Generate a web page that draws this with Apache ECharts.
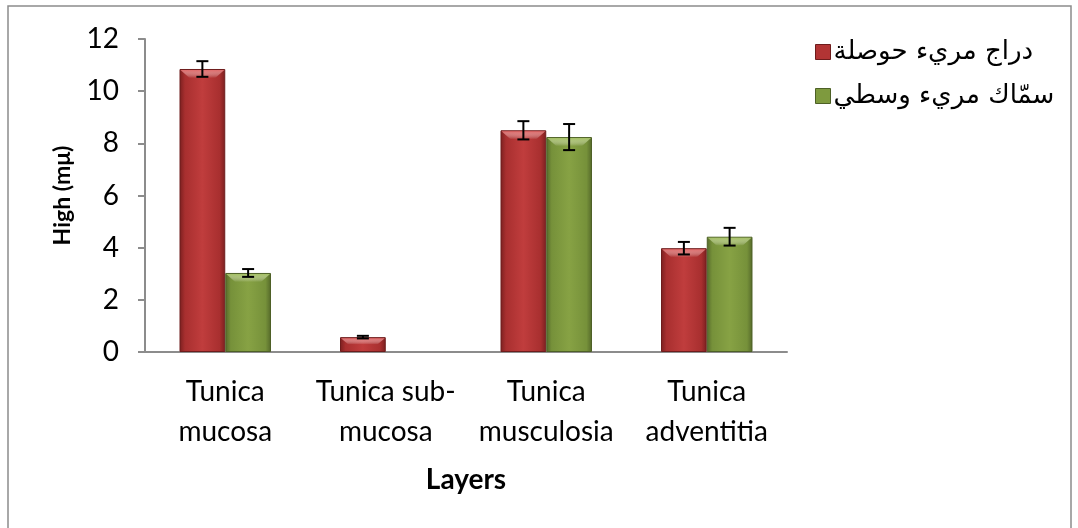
<!DOCTYPE html>
<html>
<head>
<meta charset="utf-8">
<script src="https://cdn.jsdelivr.net/npm/echarts@6/dist/echarts.min.js"></script>
<style>
  html, body { margin: 0; padding: 0; background: #fff; }
  #main { width: 1078px; height: 528px; }
</style>
</head>
<body>
<div id="main"></div>
<script>
var categories = ['Tunica\nmucosa', 'Tunica sub-\nmucosa', 'Tunica\nmusculosia', 'Tunica\nadventitia'];
var seriesNames = ['دراج مريء حوصلة', 'سمّاك مريء وسطي'];
var redVals = [10.85, 0.57, 8.5, 3.98];
var redErr = [0.3, 0.05, 0.35, 0.24];
var greenVals = [3.03, null, 8.24, 4.42];
var greenErr = [0.15, null, 0.5, 0.34];

var bevelColors = ['#e06a6a', '#a4c062'];

var chart = echarts.init(document.getElementById('main'));

function barGrad(dark, mid, light) {
    return new echarts.graphic.LinearGradient(0, 0, 1, 0, [
        { offset: 0, color: dark },
        { offset: 0.12, color: mid },
        { offset: 0.5, color: light },
        { offset: 0.88, color: mid },
        { offset: 1, color: dark }
    ]);
}

// error bar data: [catIndex, value, err, seriesIdx]
function errData(vals, errs, s) {
    var out = [];
    for (var i = 0; i < vals.length; i++) {
        if (vals[i] != null) out.push([i, vals[i], errs[i], s]);
    }
    return out;
}

function renderErr(params, api) {
    var cat = api.value(0), v = api.value(1), e = api.value(2), s = api.value(3);
    var band = api.size([1, 0])[0];
    var bw = band * (1 - 0.43) / 2;
    var off = s === 0 ? -bw / 2 : bw / 2;
    var top = api.coord([cat, v + e]);
    var bot = api.coord([cat, v - e]);
    var barTop = api.coord([cat, v])[1];
    var base = api.coord([cat, 0])[1];
    var x = top[0] + off;
    var x0 = x - bw / 2 + 1, x1 = x + bw / 2 - 1;
    var bh = Math.min(9, (base - barTop) / 2);
    var style = { stroke: '#000', lineWidth: 2 };
    return {
        type: 'group',
        children: [
            {
                type: 'polygon',
                shape: { points: [[x0, barTop + 1], [x1, barTop + 1], [x1 - bh, barTop + bh], [x0 + bh, barTop + bh]] },
                style: { fill: new echarts.graphic.LinearGradient(0, 0, 0, 1, [
                    { offset: 0, color: bevelColors[s] },
                    { offset: 1, color: 'rgba(255,255,255,0)' }
                ]) }
            },
            { type: 'line', shape: { x1: x, y1: top[1], x2: x, y2: bot[1] }, style: style },
            { type: 'line', shape: { x1: x - 6, y1: top[1], x2: x + 6, y2: top[1] }, style: style },
            { type: 'line', shape: { x1: x - 6, y1: bot[1], x2: x + 6, y2: bot[1] }, style: style }
        ]
    };
}

var option = {
    backgroundColor: '#fff',
    animation: false,
    textStyle: { fontFamily: 'Lato' },
    graphic: [{
        type: 'rect',
        shape: { x: 8, y: 6, width: 1063, height: 540 },
        style: { fill: 'none', stroke: '#8c8c8c', lineWidth: 1.5 },
        silent: true
    }],
    legend: {
        orient: 'vertical',
        left: 810,
        top: 34,
        itemWidth: 15,
        itemHeight: 15,
        itemGap: 18,
        icon: 'rect',
        data: [
            { name: seriesNames[0], itemStyle: { color: '#b23434', borderColor: '#6e1c1c', borderWidth: 1 } },
            { name: seriesNames[1], itemStyle: { color: '#7e9a3e', borderColor: '#4d6026', borderWidth: 1 } }
        ],
        textStyle: { fontFamily: 'DejaVu Sans', fontSize: 26, color: '#000', padding: [0, 0, 0, -2] }
    },
    grid: { left: 145, top: 39, right: 291, bottom: 176 },
    xAxis: {
        type: 'category',
        data: categories,
        name: 'Layers',
        nameLocation: 'center',
        nameGap: 114,
        nameTextStyle: { fontFamily: 'Lato', fontWeight: 'bold', fontSize: 28, color: '#000' },
        axisLine: { lineStyle: { color: '#8c8c8c', width: 2 } },
        axisTick: { length: 8, lineStyle: { color: '#8c8c8c', width: 2 } },
        axisLabel: { fontSize: 28, color: '#000', lineHeight: 40, margin: 20, interval: 0 }
    },
    yAxis: {
        type: 'value',
        min: 0,
        max: 12,
        interval: 2,
        name: 'High (mμ)',
        nameLocation: 'center',
        nameGap: 71,
        nameTextStyle: { fontFamily: 'Lato', fontWeight: 'bold', fontSize: 23, color: '#000' },
        axisLine: { show: true, lineStyle: { color: '#8c8c8c', width: 2 } },
        axisTick: { show: true, length: 7, lineStyle: { color: '#8c8c8c', width: 2 } },
        axisLabel: { fontSize: 28, color: '#000', margin: 26 },
        splitLine: { show: false }
    },
    series: [
        {
            name: seriesNames[0],
            type: 'bar',
            barGap: '0%',
            barCategoryGap: '43%',
            data: redVals,
            itemStyle: {
                color: barGrad('#7a1f1f', '#a82f2f', '#c03d3d'),
                borderColor: '#6e1c1c',
                borderWidth: 1
            }
        },
        {
            name: seriesNames[1],
            type: 'bar',
            data: greenVals,
            itemStyle: {
                color: barGrad('#55692a', '#76913a', '#87a244'),
                borderColor: '#4d6026',
                borderWidth: 1
            }
        },
        {
            type: 'custom',
            renderItem: renderErr,
            data: errData(redVals, redErr, 0),
            z: 10
        },
        {
            type: 'custom',
            renderItem: renderErr,
            data: errData(greenVals, greenErr, 1),
            z: 10
        }
    ]
};

chart.setOption(option);
</script>
</body>
</html>
